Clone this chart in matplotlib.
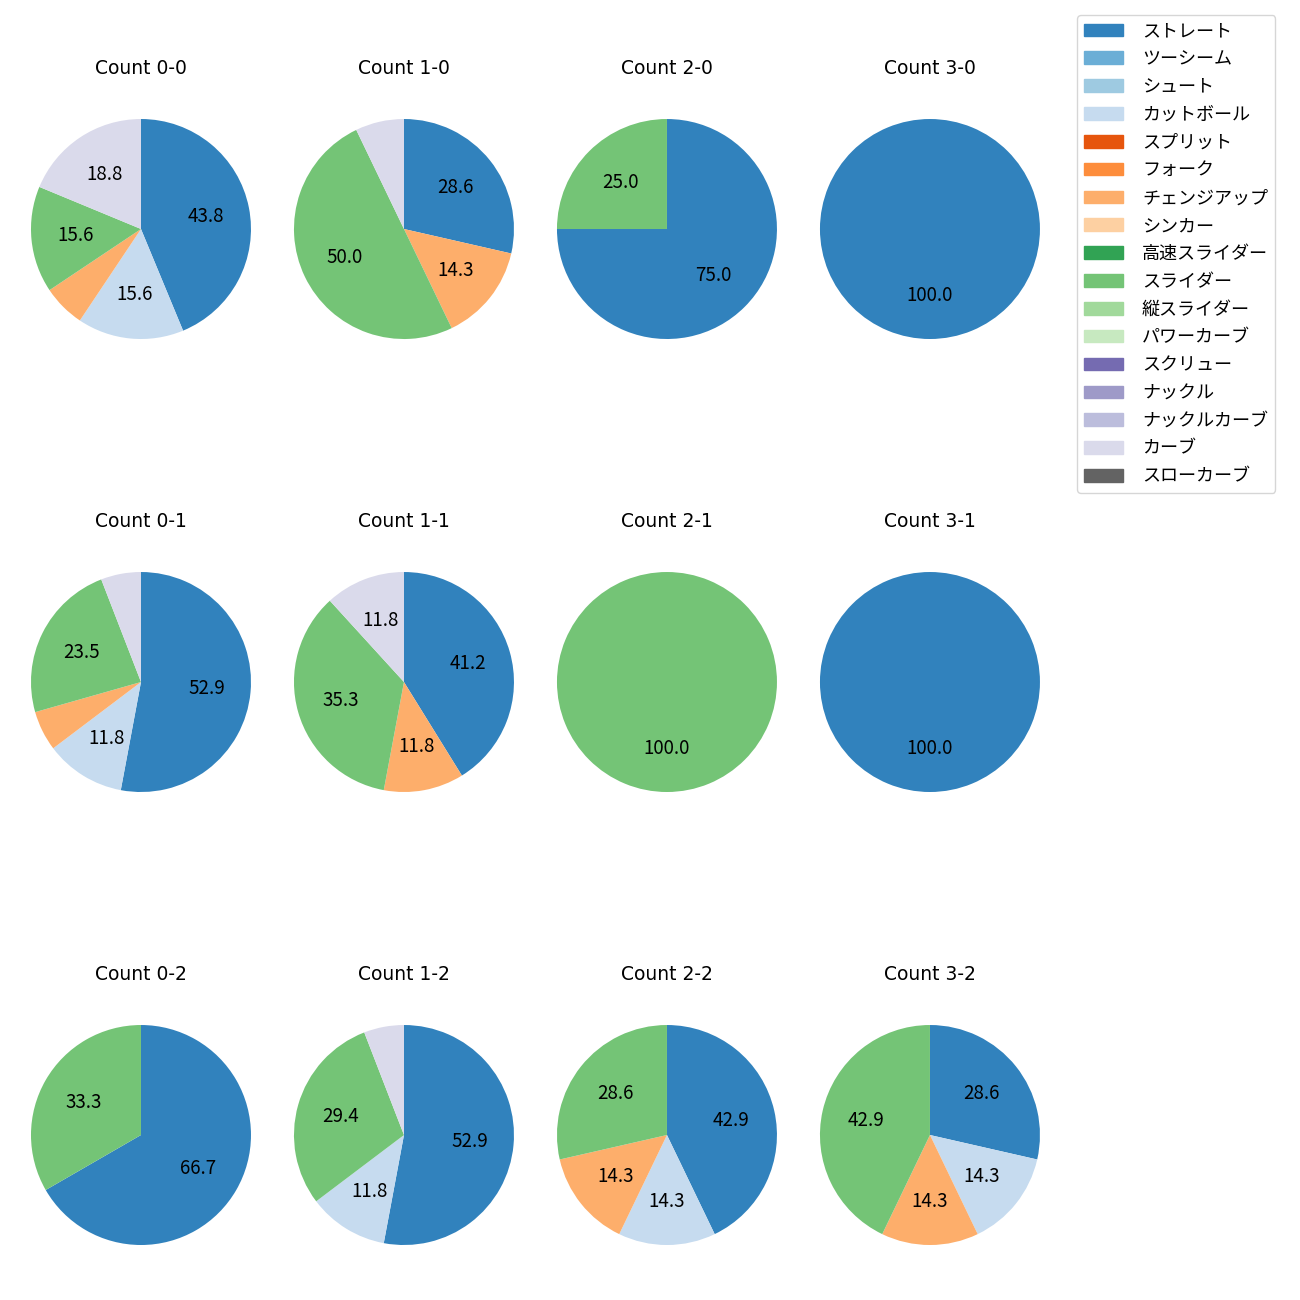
import matplotlib
matplotlib.use('Agg')
import matplotlib.pyplot as plt
from matplotlib.patches import Patch

plt.rcParams['font.family'] = ['Noto Sans CJK JP', 'DejaVu Sans']

PITCH_TYPES = ['ストレート', 'ツーシーム', 'シュート', 'カットボール', 'スプリット',
               'フォーク', 'チェンジアップ', 'シンカー', '高速スライダー', 'スライダー',
               '縦スライダー', 'パワーカーブ', 'スクリュー', 'ナックル', 'ナックルカーブ',
               'カーブ', 'スローカーブ']

# ball-strike situations, row = strikes, column = balls
SITUATIONS = ['0-0', '1-0', '2-0', '3-0',
              '0-1', '1-1', '2-1', '3-1',
              '0-2', '1-2', '2-2', '3-2']

# pitches thrown per situation (only the types that appear)
STRAIGHT = [14, 4, 3, 1, 9, 7, 0, 1, 2, 9, 3, 2]
CUTTER = [5, 0, 0, 0, 2, 0, 0, 0, 0, 2, 1, 1]
CHANGEUP = [2, 2, 0, 0, 1, 2, 0, 0, 0, 0, 1, 1]
SLIDER = [5, 7, 1, 0, 4, 6, 1, 0, 1, 5, 2, 3]
CURVE = [6, 1, 0, 0, 1, 2, 0, 0, 0, 1, 0, 0]

SERIES = {'ストレート': STRAIGHT, 'カットボール': CUTTER, 'チェンジアップ': CHANGEUP,
          'スライダー': SLIDER, 'カーブ': CURVE}

COLORS = list(plt.get_cmap('tab20c').colors[:len(PITCH_TYPES)])


def autopct(p):
    return '{:.1f}'.format(p) if p >= 10 else ''


def main():
    fig, axes = plt.subplots(3, 4, figsize=(13, 13), dpi=100)
    fig.subplots_adjust(left=0.0123, right=0.8115, top=0.9346, bottom=0.01615,
                        wspace=0.052, hspace=0.573)

    for i, sit in enumerate(SITUATIONS):
        ax = axes[i // 4][i % 4]
        values, colors = [], []
        for k, name in enumerate(PITCH_TYPES):
            if name in SERIES and SERIES[name][i] > 0:
                values.append(SERIES[name][i])
                colors.append(COLORS[k])
        ax.pie(values, colors=colors, startangle=90, counterclock=False,
               autopct=autopct, radius=1.1, textprops={'fontsize': 13.5})
        ax.set_aspect('equal', adjustable='datalim')
        ax.set_title('Count ' + sit, fontsize=13.5, pad=8,
                     family=['DejaVu Sans', 'Noto Sans CJK JP'])

    handles = [Patch(color=c) for c in COLORS]
    fig.legend(handles, PITCH_TYPES, loc='upper left',
               bbox_to_anchor=(1077 / 1300, 1 - 15 / 1300), borderaxespad=0,
               fontsize=13, labelspacing=0.545, handlelength=2.15,
               handletextpad=1.05)
    fig.savefig('out.png')
    plt.close(fig)


if __name__ == '__main__':
    main()
